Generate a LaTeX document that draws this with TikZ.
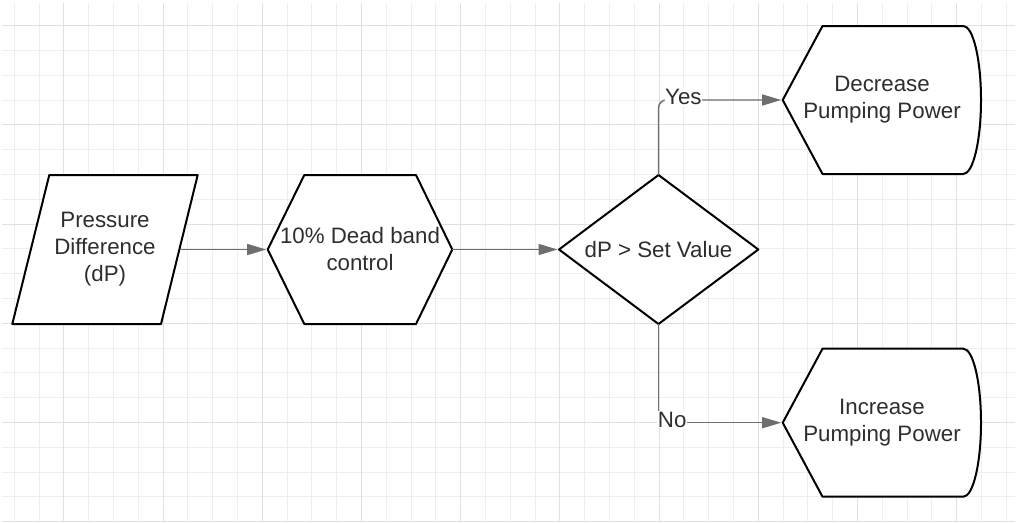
\documentclass[tikz,border=0pt]{standalone}
\usepackage{fontspec}
\setmainfont{Liberation Sans}
\usetikzlibrary{arrows.meta}
\definecolor{gridminor}{HTML}{EEEEEE}
\definecolor{gridmajor}{HTML}{E0E0E0}
\definecolor{txt}{HTML}{2E2E2E}
\definecolor{wire}{HTML}{6E6E6E}
\tikzset{
  shapeline/.style={draw=black, line width=2pt, fill=white, line join=round},
  label text/.style={text=txt, font=\fontsize{22.3pt}{27pt}\selectfont, align=center, inner sep=0pt},
  conn/.style={draw=wire, line width=1.4pt, -{Triangle[length=19pt,width=11pt]}, shorten >=1.5pt},
  branch/.style={fill=white, text=txt, font=\fontsize{22.3pt}{27pt}\selectfont, inner sep=0.8pt, yshift=3pt}
}
\begin{document}
\begin{tikzpicture}[x=1pt,y=-1pt]
  \fill[white] (0,0) rectangle (1016,522);
  \useasboundingbox (0,0) rectangle (1016,522);

  % background grid
  \foreach \k in {0,...,40}{
    \draw[gridminor, line width=1.1pt] (14.3+24.8*\k,3) -- (14.3+24.8*\k,522);
  }
  \foreach \k in {0,...,20}{
    \draw[gridminor, line width=1.1pt] (2,25.7+24.8*\k) -- (1015,25.7+24.8*\k);
  }
  \foreach \k in {2,6,...,38}{
    \draw[gridmajor, line width=1.1pt] (14.3+24.8*\k,3) -- (14.3+24.8*\k,522);
  }
  \foreach \k in {0,4,...,20}{
    \draw[gridmajor, line width=1.1pt] (2,25.7+24.8*\k) -- (1015,25.7+24.8*\k);
  }

  % input: pressure difference
  \draw[shapeline] (49.3,175) -- (197.7,175) -- (161,324) -- (12.3,324) -- cycle;
  \node[label text] (pd) at (105,249) {Pressure\\Difference\\(dP)};
  \coordinate (pd-e) at (179.5,249.5);

  % dead band control
  \draw[shapeline] (267.7,249.5) -- (304.3,175) -- (416,175) -- (452.3,249.5)
                   -- (416,324) -- (304.3,324) -- cycle;
  \node[label text] (db) at (360,249) {10\% Dead band\\control};
  \coordinate (db-w) at (267.7,249.5);
  \coordinate (db-e) at (452.3,249.5);

  % decision
  \draw[shapeline] (658.5,175) -- (758.3,249.5) -- (658.5,324) -- (559,249.5) -- cycle;
  \node[label text] (cmp) at (658.5,249.5) {dP > Set Value};
  \coordinate (cmp-w) at (559,249.5);
  \coordinate (cmp-n) at (658.5,175);
  \coordinate (cmp-s) at (658.5,324);

  % outputs
  \draw[shapeline] (782.7,100) -- (822.5,26) -- (963.3,26)
    arc[start angle=-90, end angle=90, x radius=17.7, y radius=74]
    -- (822.5,174) -- cycle;
  \node[label text] (dec) at (882,99.5) {Decrease\\Pumping Power};
  \coordinate (dec-w) at (782.7,100);

  \draw[shapeline] (782.7,422.7) -- (822.5,348.7) -- (963.3,348.7)
    arc[start angle=-90, end angle=90, x radius=17.7, y radius=74]
    -- (822.5,496.7) -- cycle;
  \node[label text] (inc) at (882,422.2) {Increase\\Pumping Power};
  \coordinate (inc-w) at (782.7,422.7);

  % connectors
  \draw[conn] (pd-e) -- (db-w);
  \draw[conn] (db-e) -- (cmp-w);
  \draw[conn, rounded corners=8pt] (cmp-n) |- node[branch, pos=0.6] {Yes} (dec-w);
  \draw[conn] (cmp-s) |- node[branch, pos=0.555] {No} (inc-w);
\end{tikzpicture}
\end{document}
